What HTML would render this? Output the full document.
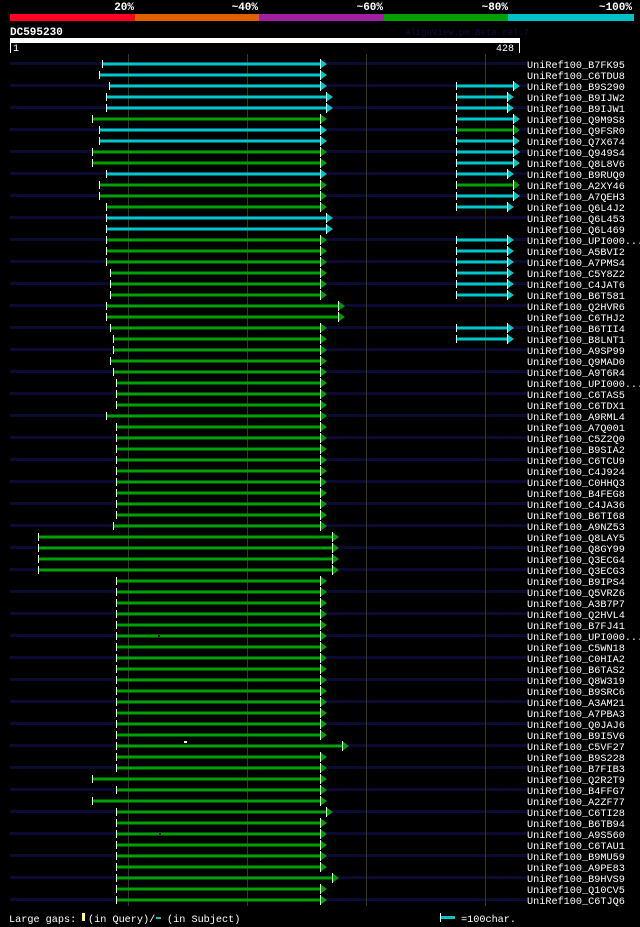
<!DOCTYPE html>
<html><head><meta charset="utf-8"><style>
html,body{margin:0;padding:0;background:#000;}
svg{display:block;font-family:"Liberation Mono","DejaVu Sans Mono",monospace;}
</style></head><body>
<svg width="640" height="927" xmlns="http://www.w3.org/2000/svg" xmlns:xlink="http://www.w3.org/1999/xlink">
<defs>
<rect id="t" x="0" y="-4" width="1" height="8" fill="#fff"/>
<g id="ac"><polygon points="0,-5 7,0 0,5" fill="#00c8c8"/><rect x="0" y="-5" width="1" height="10" fill="#fff"/></g>
<g id="ag"><polygon points="0,-5 7,0 0,5" fill="#00a000"/><rect x="0" y="-5" width="1" height="10" fill="#fff"/></g>
</defs>
<rect width="640" height="927" fill="#000"/>
<g font-size="11" font-weight="bold" fill="#fff" text-anchor="end">
<text x="134" y="10">20%</text><text x="258" y="10">~40%</text><text x="383" y="10">~60%</text><text x="508" y="10">~80%</text><text x="632" y="10">~100%</text>
</g>
<rect x="10" y="14" width="125" height="7" fill="#ff0022"/>
<rect x="135" y="14" width="124" height="7" fill="#e06000"/>
<rect x="259" y="14" width="125" height="7" fill="#a020a0"/>
<rect x="384" y="14" width="124" height="7" fill="#00a000"/>
<rect x="508" y="14" width="126" height="7" fill="#00c0c8"/>
<text x="10" y="35" font-size="11" font-weight="bold" fill="#fff">DC595230</text>
<text x="405" y="35" font-size="9" fill="#101040">AlignView.pm Beta rel.7</text>
<rect x="10" y="38" width="510" height="5" fill="#fff"/>
<g fill="#fff" font-size="10"><rect x="10" y="43" width="1" height="10"/><text x="13" y="51">1</text><text x="496" y="51">428</text><rect x="519" y="43" width="1" height="10"/></g>
<!-- navy row bands -->
<g fill="#0a0a32">
<rect x="10" y="62" width="517" height="3"/><rect x="10" y="84" width="517" height="3"/><rect x="10" y="106" width="517" height="3"/><rect x="10" y="128" width="517" height="3"/><rect x="10" y="150" width="517" height="3"/><rect x="10" y="172" width="517" height="3"/><rect x="10" y="194" width="517" height="3"/><rect x="10" y="216" width="517" height="3"/><rect x="10" y="238" width="517" height="3"/><rect x="10" y="260" width="517" height="3"/><rect x="10" y="282" width="517" height="3"/><rect x="10" y="304" width="517" height="3"/><rect x="10" y="326" width="517" height="3"/><rect x="10" y="348" width="517" height="3"/><rect x="10" y="370" width="517" height="3"/><rect x="10" y="392" width="517" height="3"/><rect x="10" y="414" width="517" height="3"/><rect x="10" y="436" width="517" height="3"/><rect x="10" y="458" width="517" height="3"/><rect x="10" y="480" width="517" height="3"/><rect x="10" y="502" width="517" height="3"/><rect x="10" y="524" width="517" height="3"/><rect x="10" y="546" width="517" height="3"/><rect x="10" y="568" width="517" height="3"/><rect x="10" y="590" width="517" height="3"/><rect x="10" y="612" width="517" height="3"/><rect x="10" y="634" width="517" height="3"/><rect x="10" y="656" width="517" height="3"/><rect x="10" y="678" width="517" height="3"/><rect x="10" y="700" width="517" height="3"/><rect x="10" y="722" width="517" height="3"/><rect x="10" y="744" width="517" height="3"/><rect x="10" y="766" width="517" height="3"/><rect x="10" y="788" width="517" height="3"/><rect x="10" y="810" width="517" height="3"/><rect x="10" y="832" width="517" height="3"/><rect x="10" y="854" width="517" height="3"/><rect x="10" y="876" width="517" height="3"/><rect x="10" y="898" width="517" height="3"/>
</g>
<g fill="#3a3a10"><rect x="128" y="54" width="1" height="852"/><rect x="247" y="54" width="1" height="852"/><rect x="366" y="54" width="1" height="852"/><rect x="485" y="54" width="1" height="852"/></g>
<!-- bars -->
<g>
<g transform="translate(0,64)"><rect x="102" y="-1.5" width="218" height="3" fill="#00c8c8"/><use xlink:href="#t" x="102"/><use xlink:href="#ac" x="320"/></g>
<g transform="translate(0,75)"><rect x="99" y="-1.5" width="221" height="3" fill="#00c8c8"/><use xlink:href="#t" x="99"/><use xlink:href="#ac" x="320"/></g>
<g transform="translate(0,86)"><rect x="109" y="-1.5" width="211" height="3" fill="#00c8c8"/><use xlink:href="#t" x="109"/><use xlink:href="#ac" x="320"/><rect x="456" y="-1.5" width="57" height="3" fill="#00c8c8"/><use xlink:href="#t" x="456"/><use xlink:href="#ac" x="513"/></g>
<g transform="translate(0,97)"><rect x="106" y="-1.5" width="220" height="3" fill="#00c8c8"/><use xlink:href="#t" x="106"/><use xlink:href="#ac" x="326"/><rect x="456" y="-1.5" width="51" height="3" fill="#00c8c8"/><use xlink:href="#t" x="456"/><use xlink:href="#ac" x="507"/></g>
<g transform="translate(0,108)"><rect x="106" y="-1.5" width="220" height="3" fill="#00c8c8"/><use xlink:href="#t" x="106"/><use xlink:href="#ac" x="326"/><rect x="456" y="-1.5" width="51" height="3" fill="#00c8c8"/><use xlink:href="#t" x="456"/><use xlink:href="#ac" x="507"/></g>
<g transform="translate(0,119)"><rect x="92" y="-1.5" width="228" height="3" fill="#00a000"/><use xlink:href="#t" x="92"/><use xlink:href="#ag" x="320"/><rect x="456" y="-1.5" width="57" height="3" fill="#00c8c8"/><use xlink:href="#t" x="456"/><use xlink:href="#ac" x="513"/></g>
<g transform="translate(0,130)"><rect x="99" y="-1.5" width="221" height="3" fill="#00c8c8"/><use xlink:href="#t" x="99"/><use xlink:href="#ac" x="320"/><rect x="456" y="-1.5" width="57" height="3" fill="#00a000"/><use xlink:href="#t" x="456"/><use xlink:href="#ag" x="513"/></g>
<g transform="translate(0,141)"><rect x="99" y="-1.5" width="221" height="3" fill="#00c8c8"/><use xlink:href="#t" x="99"/><use xlink:href="#ac" x="320"/><rect x="456" y="-1.5" width="57" height="3" fill="#00c8c8"/><use xlink:href="#t" x="456"/><use xlink:href="#ac" x="513"/></g>
<g transform="translate(0,152)"><rect x="92" y="-1.5" width="228" height="3" fill="#00a000"/><use xlink:href="#t" x="92"/><use xlink:href="#ag" x="320"/><rect x="456" y="-1.5" width="57" height="3" fill="#00c8c8"/><use xlink:href="#t" x="456"/><use xlink:href="#ac" x="513"/></g>
<g transform="translate(0,163)"><rect x="92" y="-1.5" width="228" height="3" fill="#00a000"/><use xlink:href="#t" x="92"/><use xlink:href="#ag" x="320"/><rect x="456" y="-1.5" width="57" height="3" fill="#00c8c8"/><use xlink:href="#t" x="456"/><use xlink:href="#ac" x="513"/></g>
<g transform="translate(0,174)"><rect x="106" y="-1.5" width="214" height="3" fill="#00c8c8"/><use xlink:href="#t" x="106"/><use xlink:href="#ac" x="320"/><rect x="456" y="-1.5" width="51" height="3" fill="#00c8c8"/><use xlink:href="#t" x="456"/><use xlink:href="#ac" x="507"/></g>
<g transform="translate(0,185)"><rect x="99" y="-1.5" width="221" height="3" fill="#00a000"/><use xlink:href="#t" x="99"/><use xlink:href="#ag" x="320"/><rect x="456" y="-1.5" width="57" height="3" fill="#00a000"/><use xlink:href="#t" x="456"/><use xlink:href="#ag" x="513"/></g>
<g transform="translate(0,196)"><rect x="99" y="-1.5" width="221" height="3" fill="#00a000"/><use xlink:href="#t" x="99"/><use xlink:href="#ag" x="320"/><rect x="456" y="-1.5" width="57" height="3" fill="#00c8c8"/><use xlink:href="#t" x="456"/><use xlink:href="#ac" x="513"/></g>
<g transform="translate(0,207)"><rect x="106" y="-1.5" width="214" height="3" fill="#00a000"/><use xlink:href="#t" x="106"/><use xlink:href="#ag" x="320"/><rect x="456" y="-1.5" width="51" height="3" fill="#00c8c8"/><use xlink:href="#t" x="456"/><use xlink:href="#ac" x="507"/></g>
<g transform="translate(0,218)"><rect x="106" y="-1.5" width="220" height="3" fill="#00c8c8"/><use xlink:href="#t" x="106"/><use xlink:href="#ac" x="326"/></g>
<g transform="translate(0,229)"><rect x="106" y="-1.5" width="220" height="3" fill="#00c8c8"/><use xlink:href="#t" x="106"/><use xlink:href="#ac" x="326"/></g>
<g transform="translate(0,240)"><rect x="106" y="-1.5" width="214" height="3" fill="#00a000"/><use xlink:href="#t" x="106"/><use xlink:href="#ag" x="320"/><rect x="456" y="-1.5" width="51" height="3" fill="#00c8c8"/><use xlink:href="#t" x="456"/><use xlink:href="#ac" x="507"/></g>
<g transform="translate(0,251)"><rect x="106" y="-1.5" width="214" height="3" fill="#00a000"/><use xlink:href="#t" x="106"/><use xlink:href="#ag" x="320"/><rect x="456" y="-1.5" width="51" height="3" fill="#00c8c8"/><use xlink:href="#t" x="456"/><use xlink:href="#ac" x="507"/></g>
<g transform="translate(0,262)"><rect x="106" y="-1.5" width="214" height="3" fill="#00a000"/><use xlink:href="#t" x="106"/><use xlink:href="#ag" x="320"/><rect x="456" y="-1.5" width="51" height="3" fill="#00c8c8"/><use xlink:href="#t" x="456"/><use xlink:href="#ac" x="507"/></g>
<g transform="translate(0,273)"><rect x="110" y="-1.5" width="210" height="3" fill="#00a000"/><use xlink:href="#t" x="110"/><use xlink:href="#ag" x="320"/><rect x="456" y="-1.5" width="51" height="3" fill="#00c8c8"/><use xlink:href="#t" x="456"/><use xlink:href="#ac" x="507"/></g>
<g transform="translate(0,284)"><rect x="110" y="-1.5" width="210" height="3" fill="#00a000"/><use xlink:href="#t" x="110"/><use xlink:href="#ag" x="320"/><rect x="456" y="-1.5" width="51" height="3" fill="#00c8c8"/><use xlink:href="#t" x="456"/><use xlink:href="#ac" x="507"/></g>
<g transform="translate(0,295)"><rect x="110" y="-1.5" width="210" height="3" fill="#00a000"/><use xlink:href="#t" x="110"/><use xlink:href="#ag" x="320"/><rect x="456" y="-1.5" width="51" height="3" fill="#00c8c8"/><use xlink:href="#t" x="456"/><use xlink:href="#ac" x="507"/></g>
<g transform="translate(0,306)"><rect x="106" y="-1.5" width="232" height="3" fill="#00a000"/><use xlink:href="#t" x="106"/><use xlink:href="#ag" x="338"/></g>
<g transform="translate(0,317)"><rect x="106" y="-1.5" width="232" height="3" fill="#00a000"/><use xlink:href="#t" x="106"/><use xlink:href="#ag" x="338"/></g>
<g transform="translate(0,328)"><rect x="110" y="-1.5" width="210" height="3" fill="#00a000"/><use xlink:href="#t" x="110"/><use xlink:href="#ag" x="320"/><rect x="456" y="-1.5" width="51" height="3" fill="#00c8c8"/><use xlink:href="#t" x="456"/><use xlink:href="#ac" x="507"/></g>
<g transform="translate(0,339)"><rect x="113" y="-1.5" width="207" height="3" fill="#00a000"/><use xlink:href="#t" x="113"/><use xlink:href="#ag" x="320"/><rect x="456" y="-1.5" width="51" height="3" fill="#00c8c8"/><use xlink:href="#t" x="456"/><use xlink:href="#ac" x="507"/></g>
<g transform="translate(0,350)"><rect x="113" y="-1.5" width="207" height="3" fill="#00a000"/><use xlink:href="#t" x="113"/><use xlink:href="#ag" x="320"/></g>
<g transform="translate(0,361)"><rect x="110" y="-1.5" width="210" height="3" fill="#00a000"/><use xlink:href="#t" x="110"/><use xlink:href="#ag" x="320"/></g>
<g transform="translate(0,372)"><rect x="113" y="-1.5" width="207" height="3" fill="#00a000"/><use xlink:href="#t" x="113"/><use xlink:href="#ag" x="320"/></g>
<g transform="translate(0,383)"><rect x="116" y="-1.5" width="204" height="3" fill="#00a000"/><use xlink:href="#t" x="116"/><use xlink:href="#ag" x="320"/></g>
<g transform="translate(0,394)"><rect x="116" y="-1.5" width="204" height="3" fill="#00a000"/><use xlink:href="#t" x="116"/><use xlink:href="#ag" x="320"/></g>
<g transform="translate(0,405)"><rect x="116" y="-1.5" width="204" height="3" fill="#00a000"/><use xlink:href="#t" x="116"/><use xlink:href="#ag" x="320"/></g>
<g transform="translate(0,416)"><rect x="106" y="-1.5" width="214" height="3" fill="#00a000"/><use xlink:href="#t" x="106"/><use xlink:href="#ag" x="320"/></g>
<g transform="translate(0,427)"><rect x="116" y="-1.5" width="204" height="3" fill="#00a000"/><use xlink:href="#t" x="116"/><use xlink:href="#ag" x="320"/></g>
<g transform="translate(0,438)"><rect x="116" y="-1.5" width="204" height="3" fill="#00a000"/><use xlink:href="#t" x="116"/><use xlink:href="#ag" x="320"/></g>
<g transform="translate(0,449)"><rect x="116" y="-1.5" width="204" height="3" fill="#00a000"/><use xlink:href="#t" x="116"/><use xlink:href="#ag" x="320"/></g>
<g transform="translate(0,460)"><rect x="116" y="-1.5" width="204" height="3" fill="#00a000"/><use xlink:href="#t" x="116"/><use xlink:href="#ag" x="320"/></g>
<g transform="translate(0,471)"><rect x="116" y="-1.5" width="204" height="3" fill="#00a000"/><use xlink:href="#t" x="116"/><use xlink:href="#ag" x="320"/></g>
<g transform="translate(0,482)"><rect x="116" y="-1.5" width="204" height="3" fill="#00a000"/><use xlink:href="#t" x="116"/><use xlink:href="#ag" x="320"/></g>
<g transform="translate(0,493)"><rect x="116" y="-1.5" width="204" height="3" fill="#00a000"/><use xlink:href="#t" x="116"/><use xlink:href="#ag" x="320"/></g>
<g transform="translate(0,504)"><rect x="116" y="-1.5" width="204" height="3" fill="#00a000"/><use xlink:href="#t" x="116"/><use xlink:href="#ag" x="320"/></g>
<g transform="translate(0,515)"><rect x="116" y="-1.5" width="204" height="3" fill="#00a000"/><use xlink:href="#t" x="116"/><use xlink:href="#ag" x="320"/></g>
<g transform="translate(0,526)"><rect x="113" y="-1.5" width="207" height="3" fill="#00a000"/><use xlink:href="#t" x="113"/><use xlink:href="#ag" x="320"/></g>
<g transform="translate(0,537)"><rect x="38" y="-1.5" width="294" height="3" fill="#00a000"/><use xlink:href="#t" x="38"/><use xlink:href="#ag" x="332"/></g>
<g transform="translate(0,548)"><rect x="38" y="-1.5" width="294" height="3" fill="#00a000"/><use xlink:href="#t" x="38"/><use xlink:href="#ag" x="332"/></g>
<g transform="translate(0,559)"><rect x="38" y="-1.5" width="294" height="3" fill="#00a000"/><use xlink:href="#t" x="38"/><use xlink:href="#ag" x="332"/></g>
<g transform="translate(0,570)"><rect x="38" y="-1.5" width="294" height="3" fill="#00a000"/><use xlink:href="#t" x="38"/><use xlink:href="#ag" x="332"/></g>
<g transform="translate(0,581)"><rect x="116" y="-1.5" width="204" height="3" fill="#00a000"/><use xlink:href="#t" x="116"/><use xlink:href="#ag" x="320"/></g>
<g transform="translate(0,592)"><rect x="116" y="-1.5" width="204" height="3" fill="#00a000"/><use xlink:href="#t" x="116"/><use xlink:href="#ag" x="320"/></g>
<g transform="translate(0,603)"><rect x="116" y="-1.5" width="204" height="3" fill="#00a000"/><use xlink:href="#t" x="116"/><use xlink:href="#ag" x="320"/></g>
<g transform="translate(0,614)"><rect x="116" y="-1.5" width="204" height="3" fill="#00a000"/><use xlink:href="#t" x="116"/><use xlink:href="#ag" x="320"/></g>
<g transform="translate(0,625)"><rect x="116" y="-1.5" width="204" height="3" fill="#00a000"/><use xlink:href="#t" x="116"/><use xlink:href="#ag" x="320"/></g>
<g transform="translate(0,636)"><rect x="116" y="-1.5" width="204" height="3" fill="#00a000"/><use xlink:href="#t" x="116"/><use xlink:href="#ag" x="320"/><rect x="158" y="-1" width="2" height="2" fill="#000"/></g>
<g transform="translate(0,647)"><rect x="116" y="-1.5" width="204" height="3" fill="#00a000"/><use xlink:href="#t" x="116"/><use xlink:href="#ag" x="320"/></g>
<g transform="translate(0,658)"><rect x="116" y="-1.5" width="204" height="3" fill="#00a000"/><use xlink:href="#t" x="116"/><use xlink:href="#ag" x="320"/></g>
<g transform="translate(0,669)"><rect x="116" y="-1.5" width="204" height="3" fill="#00a000"/><use xlink:href="#t" x="116"/><use xlink:href="#ag" x="320"/></g>
<g transform="translate(0,680)"><rect x="116" y="-1.5" width="204" height="3" fill="#00a000"/><use xlink:href="#t" x="116"/><use xlink:href="#ag" x="320"/></g>
<g transform="translate(0,691)"><rect x="116" y="-1.5" width="204" height="3" fill="#00a000"/><use xlink:href="#t" x="116"/><use xlink:href="#ag" x="320"/></g>
<g transform="translate(0,702)"><rect x="116" y="-1.5" width="204" height="3" fill="#00a000"/><use xlink:href="#t" x="116"/><use xlink:href="#ag" x="320"/></g>
<g transform="translate(0,713)"><rect x="116" y="-1.5" width="204" height="3" fill="#00a000"/><use xlink:href="#t" x="116"/><use xlink:href="#ag" x="320"/></g>
<g transform="translate(0,724)"><rect x="116" y="-1.5" width="204" height="3" fill="#00a000"/><use xlink:href="#t" x="116"/><use xlink:href="#ag" x="320"/></g>
<g transform="translate(0,735)"><rect x="116" y="-1.5" width="204" height="3" fill="#00a000"/><use xlink:href="#t" x="116"/><use xlink:href="#ag" x="320"/></g>
<g transform="translate(0,746)"><rect x="116" y="-1.5" width="226" height="3" fill="#00a000"/><use xlink:href="#t" x="116"/><use xlink:href="#ag" x="342"/><rect x="184" y="-5" width="3" height="2" fill="#ffff80"/></g>
<g transform="translate(0,757)"><rect x="116" y="-1.5" width="204" height="3" fill="#00a000"/><use xlink:href="#t" x="116"/><use xlink:href="#ag" x="320"/></g>
<g transform="translate(0,768)"><rect x="116" y="-1.5" width="204" height="3" fill="#00a000"/><use xlink:href="#t" x="116"/><use xlink:href="#ag" x="320"/></g>
<g transform="translate(0,779)"><rect x="92" y="-1.5" width="228" height="3" fill="#00a000"/><use xlink:href="#t" x="92"/><use xlink:href="#ag" x="320"/></g>
<g transform="translate(0,790)"><rect x="116" y="-1.5" width="204" height="3" fill="#00a000"/><use xlink:href="#t" x="116"/><use xlink:href="#ag" x="320"/></g>
<g transform="translate(0,801)"><rect x="92" y="-1.5" width="228" height="3" fill="#00a000"/><use xlink:href="#t" x="92"/><use xlink:href="#ag" x="320"/></g>
<g transform="translate(0,812)"><rect x="116" y="-1.5" width="210" height="3" fill="#00a000"/><use xlink:href="#t" x="116"/><use xlink:href="#ag" x="326"/></g>
<g transform="translate(0,823)"><rect x="116" y="-1.5" width="204" height="3" fill="#00a000"/><use xlink:href="#t" x="116"/><use xlink:href="#ag" x="320"/></g>
<g transform="translate(0,834)"><rect x="116" y="-1.5" width="204" height="3" fill="#00a000"/><use xlink:href="#t" x="116"/><use xlink:href="#ag" x="320"/><rect x="159" y="-1" width="2" height="2" fill="#000"/></g>
<g transform="translate(0,845)"><rect x="116" y="-1.5" width="204" height="3" fill="#00a000"/><use xlink:href="#t" x="116"/><use xlink:href="#ag" x="320"/></g>
<g transform="translate(0,856)"><rect x="116" y="-1.5" width="204" height="3" fill="#00a000"/><use xlink:href="#t" x="116"/><use xlink:href="#ag" x="320"/></g>
<g transform="translate(0,867)"><rect x="116" y="-1.5" width="204" height="3" fill="#00a000"/><use xlink:href="#t" x="116"/><use xlink:href="#ag" x="320"/></g>
<g transform="translate(0,878)"><rect x="116" y="-1.5" width="216" height="3" fill="#00a000"/><use xlink:href="#t" x="116"/><use xlink:href="#ag" x="332"/></g>
<g transform="translate(0,889)"><rect x="116" y="-1.5" width="204" height="3" fill="#00a000"/><use xlink:href="#t" x="116"/><use xlink:href="#ag" x="320"/></g>
<g transform="translate(0,900)"><rect x="116" y="-1.5" width="204" height="3" fill="#00a000"/><use xlink:href="#t" x="116"/><use xlink:href="#ag" x="320"/></g>
</g>
<g font-size="10.2" fill="#fff">
<text x="527" y="68">UniRef100_B7FK95</text><text x="527" y="79">UniRef100_C6TDU8</text><text x="527" y="90">UniRef100_B9S290</text><text x="527" y="101">UniRef100_B9IJW2</text><text x="527" y="112">UniRef100_B9IJW1</text><text x="527" y="123">UniRef100_Q9M9S8</text><text x="527" y="134">UniRef100_Q9FSR0</text><text x="527" y="145">UniRef100_Q7X674</text><text x="527" y="156">UniRef100_Q949S4</text><text x="527" y="167">UniRef100_Q8L8V6</text><text x="527" y="178">UniRef100_B9RUQ0</text><text x="527" y="189">UniRef100_A2XY46</text><text x="527" y="200">UniRef100_A7QEH3</text><text x="527" y="211">UniRef100_Q6L4J2</text><text x="527" y="222">UniRef100_Q6L453</text><text x="527" y="233">UniRef100_Q6L469</text><text x="527" y="244">UniRef100_UPI000...</text><text x="527" y="255">UniRef100_A5BVI2</text><text x="527" y="266">UniRef100_A7PMS4</text><text x="527" y="277">UniRef100_C5Y8Z2</text><text x="527" y="288">UniRef100_C4JAT6</text><text x="527" y="299">UniRef100_B6T581</text><text x="527" y="310">UniRef100_Q2HVR6</text><text x="527" y="321">UniRef100_C6THJ2</text><text x="527" y="332">UniRef100_B6TII4</text><text x="527" y="343">UniRef100_B8LNT1</text><text x="527" y="354">UniRef100_A9SP99</text><text x="527" y="365">UniRef100_Q9MAD0</text><text x="527" y="376">UniRef100_A9T6R4</text><text x="527" y="387">UniRef100_UPI000...</text><text x="527" y="398">UniRef100_C6TAS5</text><text x="527" y="409">UniRef100_C6TDX1</text><text x="527" y="420">UniRef100_A9RML4</text><text x="527" y="431">UniRef100_A7Q001</text><text x="527" y="442">UniRef100_C5Z2Q0</text><text x="527" y="453">UniRef100_B9SIA2</text><text x="527" y="464">UniRef100_C6TCU9</text><text x="527" y="475">UniRef100_C4J924</text><text x="527" y="486">UniRef100_C0HHQ3</text><text x="527" y="497">UniRef100_B4FEG8</text><text x="527" y="508">UniRef100_C4JA36</text><text x="527" y="519">UniRef100_B6TI68</text><text x="527" y="530">UniRef100_A9NZ53</text><text x="527" y="541">UniRef100_Q8LAY5</text><text x="527" y="552">UniRef100_Q8GY99</text><text x="527" y="563">UniRef100_Q3ECG4</text><text x="527" y="574">UniRef100_Q3ECG3</text><text x="527" y="585">UniRef100_B9IPS4</text><text x="527" y="596">UniRef100_Q5VRZ6</text><text x="527" y="607">UniRef100_A3B7P7</text><text x="527" y="618">UniRef100_Q2HVL4</text><text x="527" y="629">UniRef100_B7FJ41</text><text x="527" y="640">UniRef100_UPI000...</text><text x="527" y="651">UniRef100_C5WN18</text><text x="527" y="662">UniRef100_C0HIA2</text><text x="527" y="673">UniRef100_B6TAS2</text><text x="527" y="684">UniRef100_Q8W319</text><text x="527" y="695">UniRef100_B9SRC6</text><text x="527" y="706">UniRef100_A3AM21</text><text x="527" y="717">UniRef100_A7PBA3</text><text x="527" y="728">UniRef100_Q0JAJ6</text><text x="527" y="739">UniRef100_B9I5V6</text><text x="527" y="750">UniRef100_C5VF27</text><text x="527" y="761">UniRef100_B9S228</text><text x="527" y="772">UniRef100_B7FIB3</text><text x="527" y="783">UniRef100_Q2R2T9</text><text x="527" y="794">UniRef100_B4FFG7</text><text x="527" y="805">UniRef100_A2ZF77</text><text x="527" y="816">UniRef100_C6TI28</text><text x="527" y="827">UniRef100_B6TB94</text><text x="527" y="838">UniRef100_A9S560</text><text x="527" y="849">UniRef100_C6TAU1</text><text x="527" y="860">UniRef100_B9MU59</text><text x="527" y="871">UniRef100_A9PE83</text><text x="527" y="882">UniRef100_B9HVS9</text><text x="527" y="893">UniRef100_Q10CV5</text><text x="527" y="904">UniRef100_C6TJQ6</text>
</g>
<g font-size="10.2" fill="#fff">
<text x="9" y="922">Large gaps:</text>
<rect x="82" y="913" width="3" height="8" fill="#ffff80"/>
<text x="88" y="922">(in Query)/</text>
<rect x="156" y="917" width="5" height="2" fill="#00c8c8"/>
<text x="167" y="922">(in Subject)</text>
<rect x="440" y="916" width="15" height="3" fill="#00c8c8"/>
<rect x="440" y="913" width="1" height="9" fill="#fff"/>
<text x="461" y="922">=100char.</text>
</g>
</svg>
</body></html>
